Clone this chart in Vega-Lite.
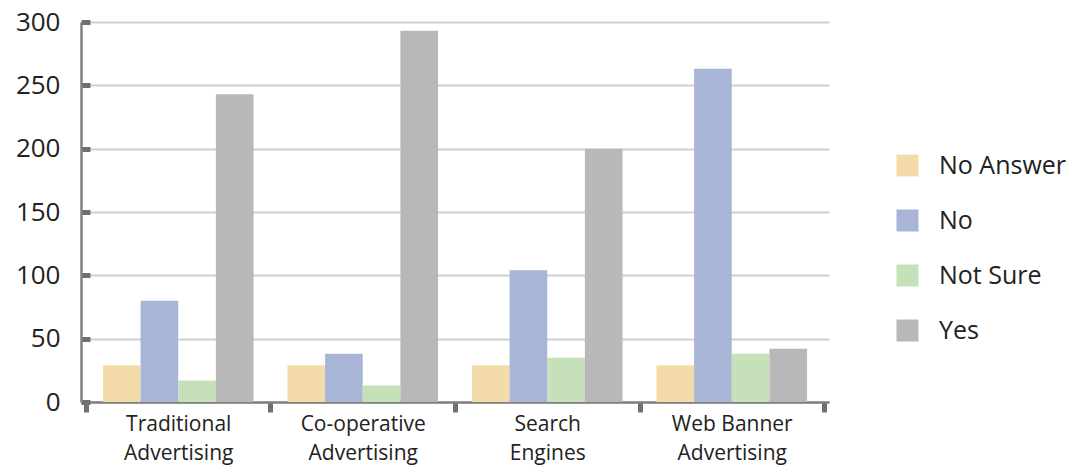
{
  "$schema": "https://vega.github.io/schema/vega-lite/v6.json",
  "autosize": "none",
  "width": 748,
  "height": 380,
  "padding": {"left": 81, "top": 22, "right": 257, "bottom": 66},
  "background": "white",
  "config": {"view": {"stroke": null}, "font": "Open Sans"},
  "data": {"values": [
    {"category": "Traditional Advertising", "response": "No Answer", "count": 29},
    {"category": "Traditional Advertising", "response": "No", "count": 80},
    {"category": "Traditional Advertising", "response": "Not Sure", "count": 17},
    {"category": "Traditional Advertising", "response": "Yes", "count": 243},
    {"category": "Co-operative Advertising", "response": "No Answer", "count": 29},
    {"category": "Co-operative Advertising", "response": "No", "count": 38},
    {"category": "Co-operative Advertising", "response": "Not Sure", "count": 13},
    {"category": "Co-operative Advertising", "response": "Yes", "count": 293},
    {"category": "Search Engines", "response": "No Answer", "count": 29},
    {"category": "Search Engines", "response": "No", "count": 104},
    {"category": "Search Engines", "response": "Not Sure", "count": 35},
    {"category": "Search Engines", "response": "Yes", "count": 200},
    {"category": "Web Banner Advertising", "response": "No Answer", "count": 29},
    {"category": "Web Banner Advertising", "response": "No", "count": 263},
    {"category": "Web Banner Advertising", "response": "Not Sure", "count": 38},
    {"category": "Web Banner Advertising", "response": "Yes", "count": 42}
  ]},
  "mark": {"type": "bar"},
  "encoding": {
    "x": {
      "field": "category", "type": "nominal", "sort": null,
      "scale": {"paddingInner": 0, "paddingOuter": 0.027},
      "axis": {
        "title": null, "labelAngle": 0, "tickBand": "extent",
        "labelExpr": "isValid(datum.value) ? (datum.value == 'Web Banner Advertising' ? ['Web Banner', 'Advertising'] : split(datum.value, ' ')) : ''",
        "labelFontSize": 21, "labelColor": "#222", "labelLineHeight": 29, "labelPadding": 1,
        "domainColor": "#808080", "domainWidth": 2.5,
        "tickColor": "#707070", "tickWidth": 5, "tickSize": 10
      }
    },
    "xOffset": {"field": "response", "type": "nominal", "sort": ["No Answer", "No", "Not Sure", "Yes"], "scale": {"paddingInner": 0, "paddingOuter": 0.45}},
    "y": {
      "field": "count", "type": "quantitative",
      "scale": {"domain": [0, 300], "nice": false},
      "axis": {
        "title": null, "values": [0, 50, 100, 150, 200, 250, 300],
        "labelFontSize": 26, "labelColor": "#222", "labelPadding": 30,
        "domainColor": "#808080", "domainWidth": 2.5,
        "tickColor": "#707070", "tickWidth": 5, "tickSize": -9,
        "gridColor": "#cfcfcf", "gridWidth": 2
      }
    },
    "color": {
      "field": "response", "type": "nominal",
      "sort": ["No Answer", "No", "Not Sure", "Yes"],
      "scale": {"domain": ["No Answer", "No", "Not Sure", "Yes"], "range": ["#f3dcaa", "#a8b5d7", "#c6e0b9", "#b8b8b8"]},
      "legend": {
        "title": null, "orient": "none", "legendX": 814, "legendY": 131,
        "symbolType": "square", "symbolSize": 484, "symbolStrokeWidth": 0,
        "labelFontSize": 25, "labelColor": "#222", "labelOffset": 19, "rowPadding": 29
      }
    }
  }
}
